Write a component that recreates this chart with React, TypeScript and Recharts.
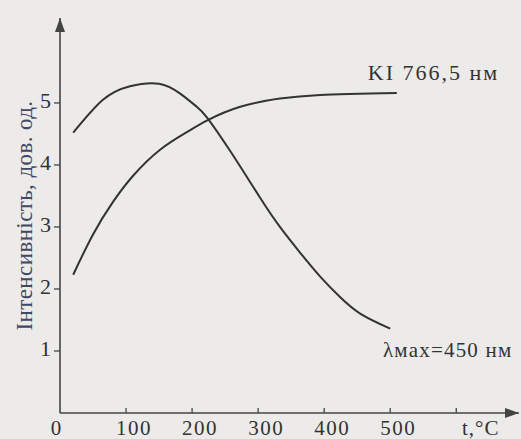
import { LineChart, Line, XAxis, YAxis, ReferenceDot } from 'recharts'

// ── Data ────────────────────────────────────────────────────────────────────

const KI_T = [20, 50, 80, 111, 152, 192, 223, 273, 333, 394, 510]
const KI_V = [2.23, 2.88, 3.4, 3.83, 4.25, 4.53, 4.72, 4.94, 5.07, 5.13, 5.16]

const L450_T = [20, 65, 106, 150, 182, 207, 223, 258, 303, 333, 364, 394, 424, 455, 500]
const L450_V = [4.52, 5.05, 5.27, 5.31, 5.15, 4.94, 4.76, 4.22, 3.47, 3.0, 2.58, 2.2, 1.87, 1.6, 1.36]

const X_TICKS = [0, 100, 200, 300, 400, 500, 600]
const Y_TICKS = [1, 2, 3, 4, 5]
const X_MAX = 695
const Y_MAX = 6.37

const kiData = KI_T.map((t, i) => ({ t, v: KI_V[i] }))
const l450Data = L450_T.map((t, i) => ({ t, v: L450_V[i] }))

// ── Styles ──────────────────────────────────────────────────────────────────

const FONT = '"Liberation Serif", "Times New Roman", Times, serif'
const INK = '#333333'
const AXIS = '#444444'
const BG = '#ecebe9'
const TXT = { fontFamily: FONT }

// eslint-disable-next-line @typescript-eslint/no-explicit-any
function XTick({ x, y, payload }: any) {
  const v = payload.value
  if (v === 0) {
    return (
      <text x={x - 4} y={y + 22} textAnchor="middle" style={TXT} fontSize={21} fill={INK}>0</text>
    )
  }
  return (
    <g>
      <line x1={x} x2={x} y1={y} y2={y - 5} stroke={AXIS} strokeWidth={1.3} />
      {v < 600 && (
        <text x={x + 8} y={y + 22} textAnchor="middle" style={TXT} fontSize={21}
          letterSpacing={1.5} fill={INK}>{v}</text>
      )}
    </g>
  )
}

// eslint-disable-next-line @typescript-eslint/no-explicit-any
function YTick({ x, y, payload }: any) {
  return (
    <g>
      <line x1={x} x2={x - 6} y1={y} y2={y} stroke={AXIS} strokeWidth={1.3} />
      <text x={x - 9} y={y + 5} textAnchor="end" style={TXT} fontSize={22} fill={INK}>
        {payload.value}
      </text>
    </g>
  )
}

export default function App() {
  return (
    <div style={{ position: 'absolute', left: 0, top: 0, width: 521, height: 439, background: BG }}>
      <LineChart width={521} height={439} margin={{ top: 18, right: 2, left: 0, bottom: 0 }}>
        <XAxis
          type="number"
          dataKey="t"
          domain={[0, X_MAX]}
          ticks={X_TICKS}
          height={26}
          tickSize={0}
          tickMargin={0}
          tickLine={false}
          tick={<XTick />}
          axisLine={{ stroke: AXIS, strokeWidth: 1.6 }}
          allowDataOverflow
          label={{
            content: ({ viewBox }: any) => (
              <text x={viewBox.x + viewBox.width - 57} y={viewBox.y + 22} style={TXT}
                fontSize={21} letterSpacing={1} fill={INK}>t,°C</text>
            ),
          }}
        />
        <YAxis
          type="number"
          domain={[0, Y_MAX]}
          ticks={Y_TICKS}
          width={60}
          tickSize={0}
          tickMargin={0}
          tickLine={false}
          tick={<YTick />}
          axisLine={{ stroke: AXIS, strokeWidth: 1.6 }}
          allowDataOverflow
          label={{
            content: ({ viewBox }: any) => (
              <text transform={`translate(32, ${viewBox.y + viewBox.height / 2}) rotate(-90)`}
                textAnchor="middle" style={TXT} fontSize={23} letterSpacing={0.4}
                fill="#404963">Інтенсивність, дов. од.</text>
            ),
          }}
        />

        {/* arrow heads */}
        <ReferenceDot x={0} y={Y_MAX} r={0} ifOverflow="visible"
          shape={({ cx, cy }: any) => (
            <path d={`M${cx},${cy} L${cx - 5},${cy + 14} L${cx + 5},${cy + 14} Z`} fill={AXIS} />
          )} />
        <ReferenceDot x={X_MAX} y={0} r={0} ifOverflow="visible"
          shape={({ cx, cy }: any) => (
            <path d={`M${cx},${cy} L${cx - 14},${cy - 5} L${cx - 14},${cy + 5} Z`} fill={AXIS} />
          )} />

        <Line data={kiData} dataKey="v" type="natural" stroke={INK} strokeWidth={2}
          dot={false} activeDot={false} isAnimationActive={false} />
        <Line data={l450Data} dataKey="v" type="natural" stroke={INK} strokeWidth={2}
          dot={false} activeDot={false} isAnimationActive={false} />

        {/* curve annotations */}
        <ReferenceDot x={466} y={5.37} r={0} ifOverflow="visible"
          shape={({ cx, cy }: any) => (
            <text x={cx} y={cy} style={TXT} fontSize={22} letterSpacing={2} fill={INK}>KI 766,5 нм</text>
          )} />
        <ReferenceDot x={489} y={0.9} r={0} ifOverflow="visible"
          shape={({ cx, cy }: any) => (
            <text x={cx} y={cy} style={TXT} fontSize={21} letterSpacing={1.2} fill={INK}>λмах=450 нм</text>
          )} />
      </LineChart>
    </div>
  )
}
